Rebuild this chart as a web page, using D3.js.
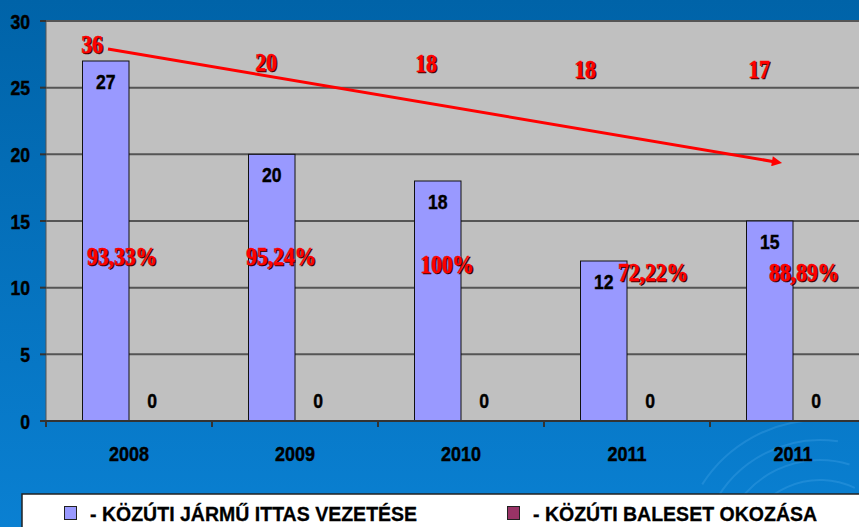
<!DOCTYPE html>
<html>
<head>
<meta charset="utf-8">
<script src="https://cdn.jsdelivr.net/npm/d3@7"></script>
<style>
  html, body { margin: 0; padding: 0; overflow: hidden; }
  svg { display: block; }
</style>
</head>
<body>
<main></main>
<script>
const years = ['2008', '2009', '2010', '2011', '2011'];
const ittasVezetes = [27, 20, 18, 12, 15];
const balesetOkozas = [0, 0, 0, 0, 0];
const totals = [36, 20, 18, 18, 17];
const percents = ['93,33%', '95,24%', '100%', '72,22%', '88,89%'];
const yTicks = [0, 5, 10, 15, 20, 25, 30];
const legendLabels = ['- KÖZÚTI JÁRMŰ ITTAS VEZETÉSE', '- KÖZÚTI BALESET OKOZÁSA'];

const width = 859;
const height = 527;
const plot = { left: 46, right: 876, top: 21, bottom: 421 };

const svg = d3
  .select('main')
  .append('svg')
  .attr('width', width)
  .attr('height', height);

// background
const defs = svg.append('defs');
const grad = defs.append('linearGradient')
  .attr('id', 'bg')
  .attr('x1', 0).attr('y1', 0).attr('x2', 0).attr('y2', 1);
grad.append('stop').attr('offset', '0%').attr('stop-color', '#0063a8');
grad.append('stop').attr('offset', '100%').attr('stop-color', '#0a80d2');

svg.append('rect')
  .attr('width', width)
  .attr('height', height)
  .attr('fill', 'url(#bg)');

// faint swirl decoration bottom right
const swirl = svg.append('g')
  .attr('fill', 'none')
  .attr('stroke', 'rgba(120,200,255,0.18)')
  .attr('stroke-width', 2);
[60, 80, 100, 120, 140].forEach((r, i) => {
  swirl.append('path')
    .attr('d', d3.arc()({ innerRadius: r, outerRadius: r, startAngle: -1.4 + i * 0.1, endAngle: 0.6 - i * 0.15 }))
    .attr('transform', 'translate(820,560)');
});

const y = d3.scaleLinear().domain([0, 30]).range([plot.bottom, plot.top]);

const x0 = d3.scaleBand()
  .domain(d3.range(years.length))
  .range([plot.left, plot.right])
  .padding(0);

const x1 = d3.scaleBand()
  .domain(['ittas', 'baleset'])
  .range([0, x0.bandwidth()])
  .paddingInner(0)
  .paddingOuter(0.785);

// plot area
svg.append('rect')
  .attr('x', plot.left)
  .attr('y', plot.top)
  .attr('width', plot.right - plot.left)
  .attr('height', plot.bottom - plot.top)
  .attr('fill', '#c0c0c0');

svg.append('g')
  .selectAll('line')
  .data(yTicks.filter(d => d > 0))
  .enter()
  .append('line')
  .attr('x1', plot.left)
  .attr('x2', plot.right)
  .attr('y1', d => y(d))
  .attr('y2', d => y(d))
  .attr('stroke', '#555')
  .attr('stroke-width', 2);

function squeeze(sel, px, py, k) {
  sel.attr('transform', `translate(${px},${py}) scale(${k},1)`);
}

const sans = 'Liberation Sans, Arial, sans-serif';

// y axis
const yAxis = svg.append('g');
yAxis.append('line')
  .attr('x1', plot.left).attr('x2', plot.left)
  .attr('y1', plot.top).attr('y2', plot.bottom)
  .attr('stroke', '#555').attr('stroke-width', 1);
yTicks.forEach(t => {
  yAxis.append('line')
    .attr('x1', plot.left - 6).attr('x2', plot.left)
    .attr('y1', y(t)).attr('y2', y(t))
    .attr('stroke', '#333').attr('stroke-width', 2);
  yAxis.append('text')
    .attr('text-anchor', 'end')
    .attr('font-family', sans)
    .attr('font-weight', 'bold')
    .attr('font-size', 21)
    .attr('stroke', '#000')
    .attr('stroke-width', 0.4)
    .text(t)
    .call(squeeze, 30, y(t) + 7.5, 0.84);
});

// bars
const groups = svg.append('g')
  .selectAll('g')
  .data(years.map((yr, i) => ({ i, yr, ittas: ittasVezetes[i], baleset: balesetOkozas[i] })))
  .enter()
  .append('g')
  .attr('transform', d => `translate(${x0(d.i)},0)`);

groups.append('rect')
  .attr('x', x1('ittas'))
  .attr('y', d => y(d.ittas))
  .attr('width', x1.bandwidth())
  .attr('height', d => y(0) - y(d.ittas))
  .attr('fill', '#9999ff')
  .attr('stroke', '#111')
  .attr('stroke-width', 1);

groups.append('rect')
  .attr('x', x1('baleset'))
  .attr('y', d => y(d.baleset))
  .attr('width', x1.bandwidth())
  .attr('height', d => y(0) - y(d.baleset))
  .attr('fill', '#993366')
  .attr('stroke', '#111')
  .attr('stroke-width', 1);

groups.append('text')
  .attr('text-anchor', 'middle')
  .attr('font-family', sans)
  .attr('font-weight', 'bold')
  .attr('font-size', 21)
  .attr('stroke', '#000')
  .attr('stroke-width', 0.4)
  .text(d => d.ittas)
  .each(function(d) {
    d3.select(this).call(squeeze, x1('ittas') + x1.bandwidth() / 2, y(d.ittas) + 28, 0.84);
  });

groups.append('text')
  .attr('text-anchor', 'middle')
  .attr('font-family', sans)
  .attr('font-weight', 'bold')
  .attr('font-size', 21)
  .attr('stroke', '#000')
  .attr('stroke-width', 0.4)
  .text(d => d.baleset)
  .each(function(d) {
    d3.select(this).call(squeeze, x1('baleset') + x1.bandwidth() / 2, y(d.baleset) - 13.5, 0.84);
  });

// x axis
const xAxis = svg.append('g');
xAxis.append('line')
  .attr('x1', plot.left).attr('x2', plot.right)
  .attr('y1', plot.bottom).attr('y2', plot.bottom)
  .attr('stroke', '#333').attr('stroke-width', 2);
d3.range(years.length + 1).forEach(i => {
  const xx = plot.left + i * x0.step();
  xAxis.append('line')
    .attr('x1', xx).attr('x2', xx)
    .attr('y1', plot.bottom).attr('y2', plot.bottom + 6)
    .attr('stroke', '#333').attr('stroke-width', 2);
});
years.forEach((yr, i) => {
  xAxis.append('text')
    .attr('text-anchor', 'middle')
    .attr('font-family', sans)
    .attr('font-weight', 'bold')
    .attr('font-size', 20)
    .attr('stroke', '#000')
    .attr('stroke-width', 0.4)
    .text(yr)
    .call(squeeze, x0(i) + x0.bandwidth() / 2, 461, 0.9);
});

// red annotations with shadow
function redText(txt, px, py, anchor) {
  [['#3a0000', 1.3], ['#ff0000', 0]].forEach(([c, o]) => {
    svg.append('text')
      .attr('text-anchor', anchor)
      .attr('font-family', 'Liberation Serif, Times New Roman, serif')
      .attr('font-weight', 'bold')
      .attr('font-size', 25)
      .attr('fill', c)
      .attr('stroke', c)
      .attr('stroke-width', 0.4)
      .text(txt)
      .call(squeeze, px + o, py + o, 0.86);
  });
}

const totalPos = [[-37, 53], [-29, 71], [-35, 72], [-42, 78], [-34, 78]];
totals.forEach((t, i) => {
  redText(t, x0(i) + x0.bandwidth() / 2 + totalPos[i][0], totalPos[i][1], 'middle');
});

const pctPos = [[-7, 265], [-14, 265], [-14, 273], [26, 281], [11, 281]];
percents.forEach((p, i) => {
  redText(p, x0(i) + x0.bandwidth() / 2 + pctPos[i][0], pctPos[i][1], 'middle');
});

// trend arrow
defs.append('marker')
  .attr('id', 'arrow')
  .attr('viewBox', '0 0 10 10')
  .attr('refX', 2).attr('refY', 5)
  .attr('markerWidth', 4).attr('markerHeight', 3.4)
  .attr('orient', 'auto')
  .append('path')
  .attr('d', 'M0,0 L10,5 L0,10 z')
  .attr('fill', '#ff0000');

const cx = i => x0(i) + x0.bandwidth() / 2;
svg.append('line')
  .attr('x1', cx(0) - 21)
  .attr('y1', y(27.9))
  .attr('x2', cx(4) - 19)
  .attr('y2', y(19.45))
  .attr('stroke', '#ff0000')
  .attr('stroke-width', 3)
  .attr('marker-end', 'url(#arrow)');

// legend
const legend = svg.append('g');
legend.append('rect')
  .attr('x', 22)
  .attr('y', 494)
  .attr('width', 900)
  .attr('height', 100)
  .attr('fill', '#fff')
  .attr('stroke', '#222')
  .attr('stroke-width', 1.5);

const legendColors = ['#9999ff', '#993366'];
const legendX = [64, 507];
legendLabels.forEach((lab, i) => {
  legend.append('rect')
    .attr('x', legendX[i] + 0.5)
    .attr('y', 506.5)
    .attr('width', 12)
    .attr('height', 13)
    .attr('fill', legendColors[i])
    .attr('stroke', '#222')
    .attr('stroke-width', 1);
  legend.append('text')
    .attr('font-family', sans)
    .attr('font-weight', 'bold')
    .attr('font-size', 21)
    .attr('stroke', '#000')
    .attr('stroke-width', 0.3)
    .text(lab)
    .call(squeeze, legendX[i] + 26, 521, 0.93);
});
</script>
</body>
</html>
